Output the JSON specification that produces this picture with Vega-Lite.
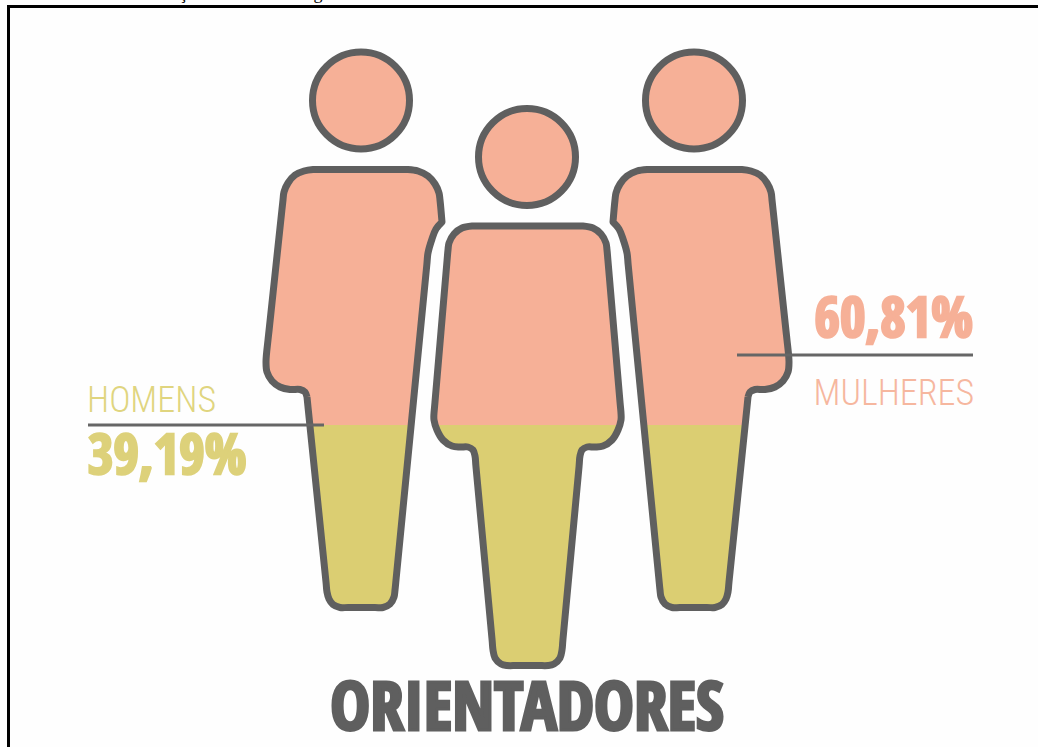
{"$schema":"https://vega.github.io/schema/vega-lite/v6.json","width":1038,"height":747,"padding":0,"autosize":"none","background":"#fefefe","view":{"stroke":null},
"datasets":{
"partes":[
{"p":"E","g":"Mulheres","n":1,"x":310,"y":425},{"p":"E","g":"Mulheres","n":2,"x":307,"y":397},{"p":"E","g":"Mulheres","n":3,"x":305,"y":392},{"p":"E","g":"Mulheres","n":4,"x":300,"y":389.5},{"p":"E","g":"Mulheres","n":5,"x":290,"y":389.5},{"p":"E","g":"Mulheres","n":6,"x":280,"y":387},{"p":"E","g":"Mulheres","n":7,"x":272,"y":381},{"p":"E","g":"Mulheres","n":8,"x":267,"y":372},{"p":"E","g":"Mulheres","n":9,"x":266,"y":362},{"p":"E","g":"Mulheres","n":10,"x":268,"y":340},{"p":"E","g":"Mulheres","n":11,"x":283,"y":200},{"p":"E","g":"Mulheres","n":12,"x":284,"y":192},{"p":"E","g":"Mulheres","n":13,"x":288,"y":183},{"p":"E","g":"Mulheres","n":14,"x":295,"y":175},{"p":"E","g":"Mulheres","n":15,"x":304,"y":171},{"p":"E","g":"Mulheres","n":16,"x":313,"y":169.5},{"p":"E","g":"Mulheres","n":17,"x":407,"y":169.5},{"p":"E","g":"Mulheres","n":18,"x":418,"y":171},{"p":"E","g":"Mulheres","n":19,"x":428,"y":176},{"p":"E","g":"Mulheres","n":20,"x":435,"y":184},{"p":"E","g":"Mulheres","n":21,"x":439,"y":193},{"p":"E","g":"Mulheres","n":22,"x":440,"y":200},{"p":"E","g":"Mulheres","n":23,"x":442,"y":222},{"p":"E","g":"Mulheres","n":24,"x":436,"y":229},{"p":"E","g":"Mulheres","n":25,"x":432,"y":239},{"p":"E","g":"Mulheres","n":26,"x":428,"y":253},{"p":"E","g":"Mulheres","n":27,"x":411,"y":425},
{"p":"E","g":"Homens","n":1,"x":310,"y":425},{"p":"E","g":"Homens","n":2,"x":411,"y":425},{"p":"E","g":"Homens","n":3,"x":395,"y":590},{"p":"E","g":"Homens","n":4,"x":394,"y":597},{"p":"E","g":"Homens","n":5,"x":390,"y":604},{"p":"E","g":"Homens","n":6,"x":383,"y":607.5},{"p":"E","g":"Homens","n":7,"x":340,"y":607.5},{"p":"E","g":"Homens","n":8,"x":333,"y":604.5},{"p":"E","g":"Homens","n":9,"x":329,"y":599},{"p":"E","g":"Homens","n":10,"x":327,"y":592},
{"p":"D","g":"Mulheres","n":1,"x":745,"y":425},{"p":"D","g":"Mulheres","n":2,"x":748,"y":397},{"p":"D","g":"Mulheres","n":3,"x":750,"y":392},{"p":"D","g":"Mulheres","n":4,"x":755,"y":389.5},{"p":"D","g":"Mulheres","n":5,"x":765,"y":389.5},{"p":"D","g":"Mulheres","n":6,"x":775,"y":387},{"p":"D","g":"Mulheres","n":7,"x":783,"y":381},{"p":"D","g":"Mulheres","n":8,"x":788,"y":372},{"p":"D","g":"Mulheres","n":9,"x":789,"y":362},{"p":"D","g":"Mulheres","n":10,"x":787,"y":340},{"p":"D","g":"Mulheres","n":11,"x":772,"y":200},{"p":"D","g":"Mulheres","n":12,"x":771,"y":192},{"p":"D","g":"Mulheres","n":13,"x":767,"y":183},{"p":"D","g":"Mulheres","n":14,"x":760,"y":175},{"p":"D","g":"Mulheres","n":15,"x":751,"y":171},{"p":"D","g":"Mulheres","n":16,"x":742,"y":169.5},{"p":"D","g":"Mulheres","n":17,"x":648,"y":169.5},{"p":"D","g":"Mulheres","n":18,"x":637,"y":171},{"p":"D","g":"Mulheres","n":19,"x":627,"y":176},{"p":"D","g":"Mulheres","n":20,"x":620,"y":184},{"p":"D","g":"Mulheres","n":21,"x":616,"y":193},{"p":"D","g":"Mulheres","n":22,"x":615,"y":200},{"p":"D","g":"Mulheres","n":23,"x":613,"y":222},{"p":"D","g":"Mulheres","n":24,"x":619,"y":229},{"p":"D","g":"Mulheres","n":25,"x":623,"y":239},{"p":"D","g":"Mulheres","n":26,"x":627,"y":253},{"p":"D","g":"Mulheres","n":27,"x":644,"y":425},
{"p":"D","g":"Homens","n":1,"x":745,"y":425},{"p":"D","g":"Homens","n":2,"x":644,"y":425},{"p":"D","g":"Homens","n":3,"x":660,"y":590},{"p":"D","g":"Homens","n":4,"x":661,"y":597},{"p":"D","g":"Homens","n":5,"x":665,"y":604},{"p":"D","g":"Homens","n":6,"x":672,"y":607.5},{"p":"D","g":"Homens","n":7,"x":715,"y":607.5},{"p":"D","g":"Homens","n":8,"x":722,"y":604.5},{"p":"D","g":"Homens","n":9,"x":726,"y":599},{"p":"D","g":"Homens","n":10,"x":728,"y":592},
{"p":"C","g":"Mulheres","n":1,"x":435.5,"y":425},{"p":"C","g":"Mulheres","n":2,"x":434,"y":420},{"p":"C","g":"Mulheres","n":3,"x":434,"y":413},{"p":"C","g":"Mulheres","n":4,"x":448,"y":250},{"p":"C","g":"Mulheres","n":5,"x":449,"y":243},{"p":"C","g":"Mulheres","n":6,"x":454,"y":234},{"p":"C","g":"Mulheres","n":7,"x":462,"y":228},{"p":"C","g":"Mulheres","n":8,"x":473,"y":226},{"p":"C","g":"Mulheres","n":9,"x":582,"y":226},{"p":"C","g":"Mulheres","n":10,"x":593,"y":228},{"p":"C","g":"Mulheres","n":11,"x":601,"y":234},{"p":"C","g":"Mulheres","n":12,"x":606,"y":243},{"p":"C","g":"Mulheres","n":13,"x":607,"y":250},{"p":"C","g":"Mulheres","n":14,"x":621,"y":413},{"p":"C","g":"Mulheres","n":15,"x":621,"y":420},{"p":"C","g":"Mulheres","n":16,"x":619.5,"y":425},
{"p":"C","g":"Homens","n":1,"x":435.5,"y":425},{"p":"C","g":"Homens","n":2,"x":619.5,"y":425},{"p":"C","g":"Homens","n":3,"x":618,"y":430},{"p":"C","g":"Homens","n":4,"x":612,"y":440},{"p":"C","g":"Homens","n":5,"x":603,"y":446},{"p":"C","g":"Homens","n":6,"x":595,"y":447},{"p":"C","g":"Homens","n":7,"x":587,"y":447},{"p":"C","g":"Homens","n":8,"x":582,"y":450},{"p":"C","g":"Homens","n":9,"x":580,"y":456},{"p":"C","g":"Homens","n":10,"x":562,"y":650},{"p":"C","g":"Homens","n":11,"x":560,"y":658},{"p":"C","g":"Homens","n":12,"x":554,"y":664},{"p":"C","g":"Homens","n":13,"x":548,"y":665.5},{"p":"C","g":"Homens","n":14,"x":507,"y":665.5},{"p":"C","g":"Homens","n":15,"x":501,"y":664},{"p":"C","g":"Homens","n":16,"x":495,"y":658},{"p":"C","g":"Homens","n":17,"x":493,"y":650},{"p":"C","g":"Homens","n":18,"x":475,"y":456},{"p":"C","g":"Homens","n":19,"x":473,"y":450},{"p":"C","g":"Homens","n":20,"x":468,"y":447},{"p":"C","g":"Homens","n":21,"x":460,"y":447},{"p":"C","g":"Homens","n":22,"x":452,"y":446},{"p":"C","g":"Homens","n":23,"x":443,"y":440},{"p":"C","g":"Homens","n":24,"x":437,"y":430}
],
"contorno":[
{"p":"E","n":1,"x":307,"y":397},{"p":"E","n":2,"x":305,"y":392},{"p":"E","n":3,"x":300,"y":389.5},{"p":"E","n":4,"x":290,"y":389.5},{"p":"E","n":5,"x":280,"y":387},{"p":"E","n":6,"x":272,"y":381},{"p":"E","n":7,"x":267,"y":372},{"p":"E","n":8,"x":266,"y":362},{"p":"E","n":9,"x":268,"y":340},{"p":"E","n":9.5,"x":269.1,"y":330},{"p":"E","n":9.7,"x":281.9,"y":210},{"p":"E","n":10,"x":283,"y":200},{"p":"E","n":11,"x":284,"y":192},{"p":"E","n":12,"x":288,"y":183},{"p":"E","n":13,"x":295,"y":175},{"p":"E","n":14,"x":304,"y":171},{"p":"E","n":15,"x":313,"y":169.5},{"p":"E","n":15.5,"x":323,"y":169.5},{"p":"E","n":15.7,"x":397,"y":169.5},{"p":"E","n":16,"x":407,"y":169.5},{"p":"E","n":17,"x":418,"y":171},{"p":"E","n":18,"x":428,"y":176},{"p":"E","n":19,"x":435,"y":184},{"p":"E","n":20,"x":439,"y":193},{"p":"E","n":21,"x":440,"y":200},{"p":"E","n":22,"x":442,"y":222},{"p":"E","n":22.5,"x":442,"y":222},{"p":"E","n":23,"x":436,"y":229},{"p":"E","n":24,"x":432,"y":239},{"p":"E","n":25,"x":428,"y":253},{"p":"E","n":25.5,"x":426.8,"y":265},{"p":"E","n":25.7,"x":396.2,"y":578},{"p":"E","n":26,"x":395,"y":590},{"p":"E","n":27,"x":394,"y":597},{"p":"E","n":28,"x":390,"y":604},{"p":"E","n":29,"x":383,"y":607.5},{"p":"E","n":29.5,"x":375,"y":607.5},{"p":"E","n":29.7,"x":348,"y":607.5},{"p":"E","n":30,"x":340,"y":607.5},{"p":"E","n":31,"x":333,"y":604.5},{"p":"E","n":32,"x":329,"y":599},{"p":"E","n":33,"x":327,"y":592},{"p":"E","n":33.5,"x":326,"y":582},{"p":"E","n":33.7,"x":308,"y":407},{"p":"E","n":34,"x":307,"y":397},
{"p":"D","n":1,"x":748,"y":397},{"p":"D","n":2,"x":750,"y":392},{"p":"D","n":3,"x":755,"y":389.5},{"p":"D","n":4,"x":765,"y":389.5},{"p":"D","n":5,"x":775,"y":387},{"p":"D","n":6,"x":783,"y":381},{"p":"D","n":7,"x":788,"y":372},{"p":"D","n":8,"x":789,"y":362},{"p":"D","n":9,"x":787,"y":340},{"p":"D","n":9.5,"x":785.9,"y":330},{"p":"D","n":9.7,"x":773.1,"y":210},{"p":"D","n":10,"x":772,"y":200},{"p":"D","n":11,"x":771,"y":192},{"p":"D","n":12,"x":767,"y":183},{"p":"D","n":13,"x":760,"y":175},{"p":"D","n":14,"x":751,"y":171},{"p":"D","n":15,"x":742,"y":169.5},{"p":"D","n":15.5,"x":732,"y":169.5},{"p":"D","n":15.7,"x":658,"y":169.5},{"p":"D","n":16,"x":648,"y":169.5},{"p":"D","n":17,"x":637,"y":171},{"p":"D","n":18,"x":627,"y":176},{"p":"D","n":19,"x":620,"y":184},{"p":"D","n":20,"x":616,"y":193},{"p":"D","n":21,"x":615,"y":200},{"p":"D","n":22,"x":613,"y":222},{"p":"D","n":22.5,"x":613,"y":222},{"p":"D","n":23,"x":619,"y":229},{"p":"D","n":24,"x":623,"y":239},{"p":"D","n":25,"x":627,"y":253},{"p":"D","n":25.5,"x":628.2,"y":265},{"p":"D","n":25.7,"x":658.8,"y":578},{"p":"D","n":26,"x":660,"y":590},{"p":"D","n":27,"x":661,"y":597},{"p":"D","n":28,"x":665,"y":604},{"p":"D","n":29,"x":672,"y":607.5},{"p":"D","n":29.5,"x":680,"y":607.5},{"p":"D","n":29.7,"x":707,"y":607.5},{"p":"D","n":30,"x":715,"y":607.5},{"p":"D","n":31,"x":722,"y":604.5},{"p":"D","n":32,"x":726,"y":599},{"p":"D","n":33,"x":728,"y":592},{"p":"D","n":33.5,"x":729,"y":582},{"p":"D","n":33.7,"x":747,"y":407},{"p":"D","n":34,"x":748,"y":397},
{"p":"C","n":1,"x":434,"y":413},{"p":"C","n":1.5,"x":434.9,"y":403},{"p":"C","n":1.7,"x":447.1,"y":260},{"p":"C","n":2,"x":448,"y":250},{"p":"C","n":3,"x":449,"y":243},{"p":"C","n":4,"x":454,"y":234},{"p":"C","n":5,"x":462,"y":228},{"p":"C","n":6,"x":473,"y":226},{"p":"C","n":6.5,"x":483,"y":226},{"p":"C","n":6.7,"x":572,"y":226},{"p":"C","n":7,"x":582,"y":226},{"p":"C","n":8,"x":593,"y":228},{"p":"C","n":9,"x":601,"y":234},{"p":"C","n":10,"x":606,"y":243},{"p":"C","n":11,"x":607,"y":250},{"p":"C","n":11.5,"x":607.9,"y":260},{"p":"C","n":11.7,"x":620.1,"y":403},{"p":"C","n":12,"x":621,"y":413},{"p":"C","n":13,"x":621,"y":420},{"p":"C","n":14,"x":618,"y":430},{"p":"C","n":15,"x":612,"y":440},{"p":"C","n":16,"x":603,"y":446},{"p":"C","n":17,"x":595,"y":447},{"p":"C","n":18,"x":587,"y":447},{"p":"C","n":19,"x":582,"y":450},{"p":"C","n":20,"x":580,"y":456},{"p":"C","n":20.5,"x":579.1,"y":466},{"p":"C","n":20.7,"x":562.9,"y":640},{"p":"C","n":21,"x":562,"y":650},{"p":"C","n":22,"x":560,"y":658},{"p":"C","n":23,"x":554,"y":664},{"p":"C","n":24,"x":548,"y":665.5},{"p":"C","n":24.5,"x":538,"y":665.5},{"p":"C","n":24.7,"x":517,"y":665.5},{"p":"C","n":25,"x":507,"y":665.5},{"p":"C","n":26,"x":501,"y":664},{"p":"C","n":27,"x":495,"y":658},{"p":"C","n":28,"x":493,"y":650},{"p":"C","n":28.5,"x":492.1,"y":640},{"p":"C","n":28.7,"x":475.9,"y":466},{"p":"C","n":29,"x":475,"y":456},{"p":"C","n":30,"x":473,"y":450},{"p":"C","n":31,"x":468,"y":447},{"p":"C","n":32,"x":460,"y":447},{"p":"C","n":33,"x":452,"y":446},{"p":"C","n":34,"x":443,"y":440},{"p":"C","n":35,"x":437,"y":430},{"p":"C","n":36,"x":434,"y":420},{"p":"C","n":37,"x":434,"y":413}
]
},
"data":{"name":"partes"},
"encoding":{
"x":{"field":"x","type":"quantitative","scale":{"domain":[0,1038],"nice":false,"zero":false},"axis":null},
"y":{"field":"y","type":"quantitative","scale":{"domain":[747,0],"nice":false,"zero":false},"axis":null}
},
"layer":[
{"data":{"values":[{"x":7,"x2":1038,"y":6.5}]},"mark":{"type":"rule","stroke":"#000000","strokeWidth":3},"encoding":{"x2":{"field":"x2"}}},
{"data":{"values":[{"x":8.5,"y":5,"y2":747}]},"mark":{"type":"rule","stroke":"#000000","strokeWidth":3},"encoding":{"y2":{"field":"y2"}}},
{"data":{"values":[{"t":"ç","x":183,"y":-1},{"t":"g","x":318,"y":-1}]},"mark":{"type":"text","font":"Liberation Serif","fontSize":18,"color":"#000000","baseline":"alphabetic","align":"center"},"encoding":{"text":{"field":"t"}}},
{"mark":{"type":"line","strokeWidth":0,"interpolate":"linear"},"encoding":{"detail":{"field":"p"},"order":{"field":"n","type":"quantitative"},"fill":{"field":"g","type":"nominal","legend":null,"scale":{"domain":["Mulheres","Homens"],"range":["#F6B097","#DBCE72"]}}}},
{"data":{"name":"contorno"},"mark":{"type":"line","stroke":"#5F5F5F","strokeWidth":7,"strokeJoin":"round","interpolate":"catmull-rom"},"encoding":{"detail":{"field":"p"},"order":{"field":"n","type":"quantitative"}}},
{"data":{"values":[{"x":361,"y":100.5},{"x":527,"y":157},{"x":694,"y":100.5}]},"mark":{"type":"point","shape":"circle","size":9409,"filled":true,"fill":"#F6B097","fillOpacity":1,"stroke":"#5F5F5F","strokeWidth":7,"opacity":1}},
{"data":{"values":[{"x":88,"x2":324,"y":425},{"x":737,"x2":973,"y":355}]},"mark":{"type":"rule","stroke":"#666666","strokeWidth":3},"encoding":{"x2":{"field":"x2"}}},
{"data":{"values":[{"t":"HOMENS","x":87,"y":412}]},"mark":{"type":"text","font":"Roboto Condensed","fontWeight":300,"fontSize":36,"color":"#E0D57F","align":"left","baseline":"alphabetic"},"encoding":{"text":{"field":"t"}}},
{"data":{"values":[{"t":"MULHERES","x":974,"y":405}]},"mark":{"type":"text","font":"Roboto Condensed","fontWeight":300,"fontSize":36,"color":"#F6B79F","align":"right","baseline":"alphabetic"},"encoding":{"text":{"field":"t"}}},
{"data":{"values":[{"t":"39,19%","x":88,"y":474}]},"mark":{"type":"text","font":"Open Sans Condensed","fontWeight":"bold","fontSize":55,"color":"#DDD17A","stroke":"#DDD17A","strokeWidth":2.5,"align":"left","baseline":"alphabetic"},"encoding":{"text":{"field":"t"}}},
{"data":{"values":[{"t":"60,81%","x":973,"y":337}]},"mark":{"type":"text","font":"Open Sans Condensed","fontWeight":"bold","fontSize":55,"color":"#F6B097","stroke":"#F6B097","strokeWidth":2.5,"align":"right","baseline":"alphabetic"},"encoding":{"text":{"field":"t"}}},
{"data":{"values":[{"t":"ORIENTADORES","x":527,"y":730}]},"mark":{"type":"text","font":"Open Sans Condensed","fontWeight":"bold","fontSize":67,"color":"#5F5F5F","stroke":"#5F5F5F","strokeWidth":3,"align":"center","baseline":"alphabetic"},"encoding":{"text":{"field":"t"}}}
]}
